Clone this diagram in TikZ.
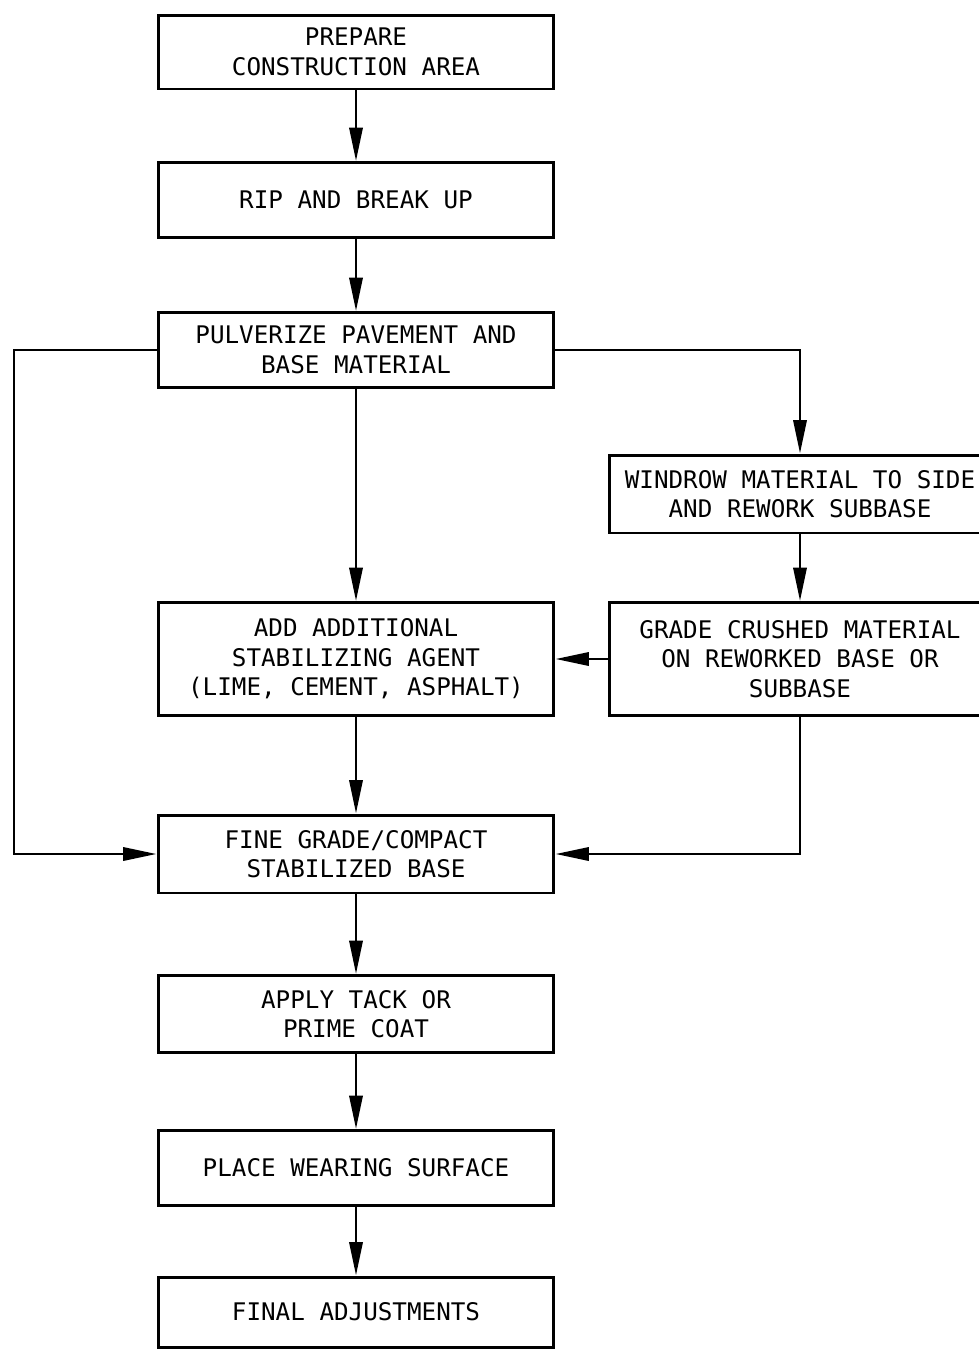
\documentclass[tikz,border=0pt]{standalone}
\usepackage{fontspec}
\setmonofont{DejaVu Sans Mono}
\usetikzlibrary{arrows.meta, positioning, calc}

\begin{document}
\begin{tikzpicture}[x=0.02cm, y=-0.02cm,
  stepbox/.style={draw, line width=1.7pt, align=center, inner sep=0pt,
    minimum width=7.92cm, minimum height=1.5cm,
    font=\ttfamily\fontsize{13.8}{16.8}\selectfont},
  sidebox/.style={stepbox, minimum width=7.64cm},
  flow/.style={line width=1.6pt, -{Triangle[length=19pt, width=7.5pt]}}]
\clip (0,0) rectangle (979,1349);

% Main column
\node[stepbox, minimum height=1.48cm] (prep) at (356,52) {PREPARE\\CONSTRUCTION AREA};
\node[stepbox] (rip) at (356,200) {RIP AND BREAK UP};
\node[stepbox] (pulv) at (356,350) {PULVERIZE PAVEMENT AND\\BASE MATERIAL};
\node[stepbox, minimum height=2.26cm] (agent) at (356,659) {ADD ADDITIONAL\\STABILIZING AGENT\\(LIME, CEMENT, ASPHALT)};
\node[stepbox, minimum height=1.56cm] (fine) at (356,854) {FINE GRADE/COMPACT\\STABILIZED BASE};
\node[stepbox, minimum height=1.54cm] (tack) at (356,1014) {APPLY TACK OR\\PRIME COAT};
\node[stepbox] (wear) at (356,1168) {PLACE WEARING SURFACE};
\node[stepbox, minimum height=1.4cm] (final) at (356,1312) {FINAL ADJUSTMENTS};

% Side column
\node[sidebox, minimum height=1.56cm] (windrow) at (800,494) {WINDROW MATERIAL TO SIDE\\AND REWORK SUBBASE\hspace{0.5cm}};
\node[sidebox, minimum height=2.26cm] (grade) at (800,659) {GRADE CRUSHED MATERIAL\hspace{0.3cm}\\ON REWORKED BASE OR\hspace{0.5cm}\\SUBBASE\hspace{0.5cm}};

\coordinate (lft) at (14,350);

% Arrows
\draw[flow] (prep) -- (rip);
\draw[flow] (rip) -- (pulv);
\draw[flow] (pulv) -- (agent);
\draw[flow] (agent) -- (fine);
\draw[flow] (fine) -- (tack);
\draw[flow] (tack) -- (wear);
\draw[flow] (wear) -- (final);
\draw[flow] (pulv.west) -- (lft) |- (fine.west);
\draw[flow] (pulv.east) -| (windrow.north);
\draw[flow] (windrow) -- (grade);
\draw[flow] (grade.west) -- (agent.east);
\draw[flow] (grade.south) |- (fine.east);
\end{tikzpicture}
\end{document}
